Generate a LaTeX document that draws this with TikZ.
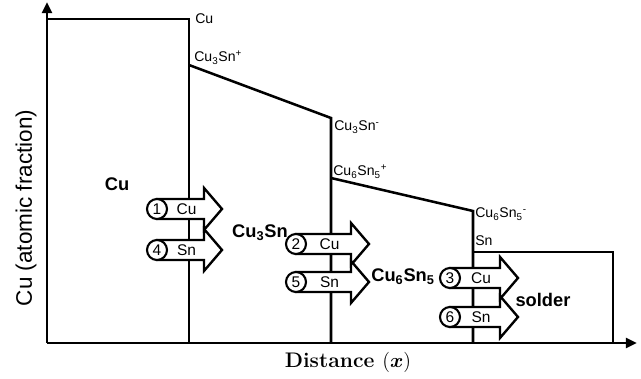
\documentclass[tikz,border=0pt]{standalone}
\usepackage{fontspec}
\setsansfont{Liberation Sans}
\usepackage{amsmath}
\usetikzlibrary{arrows.meta, calc}
\tikzset{
  profile/.style={line width=1.8pt},
  axisline/.style={line width=2pt, -{Triangle[length=8pt, width=7pt]}},
  phase/.style={font=\sffamily\bfseries\fontsize{13}{15}\selectfont, inner sep=0pt},
  iface/.style={font=\sffamily\fontsize{10}{12}\selectfont, inner sep=0pt, anchor=base west},
  fluxbody/.style={line width=1.7pt, fill=white, line join=miter},
  fluxtext/.style={font=\sffamily\fontsize{11}{13}\selectfont, inner sep=0pt},
  numcirc/.style={circle, draw, line width=1.5pt, fill=white, minimum size=0.5cm, inner sep=0pt, font=\sffamily\fontsize{11}{13}\selectfont}
}
% flux arrow: id, circle x, circle y, tip x, number, element
\newcommand{\fluxarrow}[6]{
    \draw[fluxbody] (#2,{#3-10}) -- ({#4-18},{#3-10}) -- ({#4-18},{#3-21}) -- (#4,#3)
        -- ({#4-18},{#3+21}) -- ({#4-18},{#3+10}) -- (#2,{#3+10}) -- cycle;
    \node[fluxtext] (el#1) at ({(#2+#4-18)/2+6},#3) {#6};
    \node[numcirc] (num#1) at (#2,#3) {#5};
}

\begin{document}
\begin{tikzpicture}[x=0.025cm, y=-0.025cm]
    \useasboundingbox (0,0) rectangle (641,379);

    % 1. Ejes
    \draw[axisline] (47,343) -- (47,2);
    \draw[axisline] (47,343) -- (637,343);
    \node[rotate=90, font=\sffamily\fontsize{16}{18}\selectfont] (ylab) at (26,208) {Cu (atomic fraction)};
    \node[font=\bfseries\fontsize{15}{17}\selectfont] (xlab) at (348,362) {Distance $(\boldsymbol{x})$};

    % 2. Perfil de concentracion
    \draw[profile] (47,19) -- (189,19) -- (189,343);
    \draw[profile] (189,65) -- (331,118) -- (331,343);
    \draw[profile] (331,178) -- (473,211) -- (473,343);
    \draw[profile] (473,252) -- (613,252) -- (613,343);

    % 3. Etiquetas de interfaz
    \node[iface] (iCu) at (195,24) {Cu};
    \node[iface] (iA) at (194,62) {Cu\textsubscript{3}Sn\textsuperscript{+}};
    \node[iface] (iB) at (334,131) {Cu\textsubscript{3}Sn\textsuperscript{-}};
    \node[iface] (iC) at (333,176) {Cu\textsubscript{6}Sn\textsubscript{5}\textsuperscript{+}};
    \node[iface] (iD) at (475,218) {Cu\textsubscript{6}Sn\textsubscript{5}\textsuperscript{-}};
    \node[iface] (iSn) at (475,246) {Sn};

    % 4. Fases
    \node[phase] (pCu) at (117,184) {Cu};
    \node[phase] (pA) at (260,233) {Cu\textsubscript{3}Sn};
    \node[phase] (pB) at (403,277) {Cu\textsubscript{6}Sn\textsubscript{5}};
    \node[phase] (pSol) at (543,300) {solder};

    % 5. Flujos
    \fluxarrow{1}{157}{209}{222}{1}{Cu}
    \fluxarrow{4}{157}{250}{222}{4}{Sn}
    \fluxarrow{2}{296}{244}{369}{2}{Cu}
    \fluxarrow{5}{296}{282}{369}{5}{Sn}
    \fluxarrow{3}{450}{278}{518}{3}{Cu}
    \fluxarrow{6}{450}{317}{518}{6}{Sn}

\end{tikzpicture}
\end{document}
